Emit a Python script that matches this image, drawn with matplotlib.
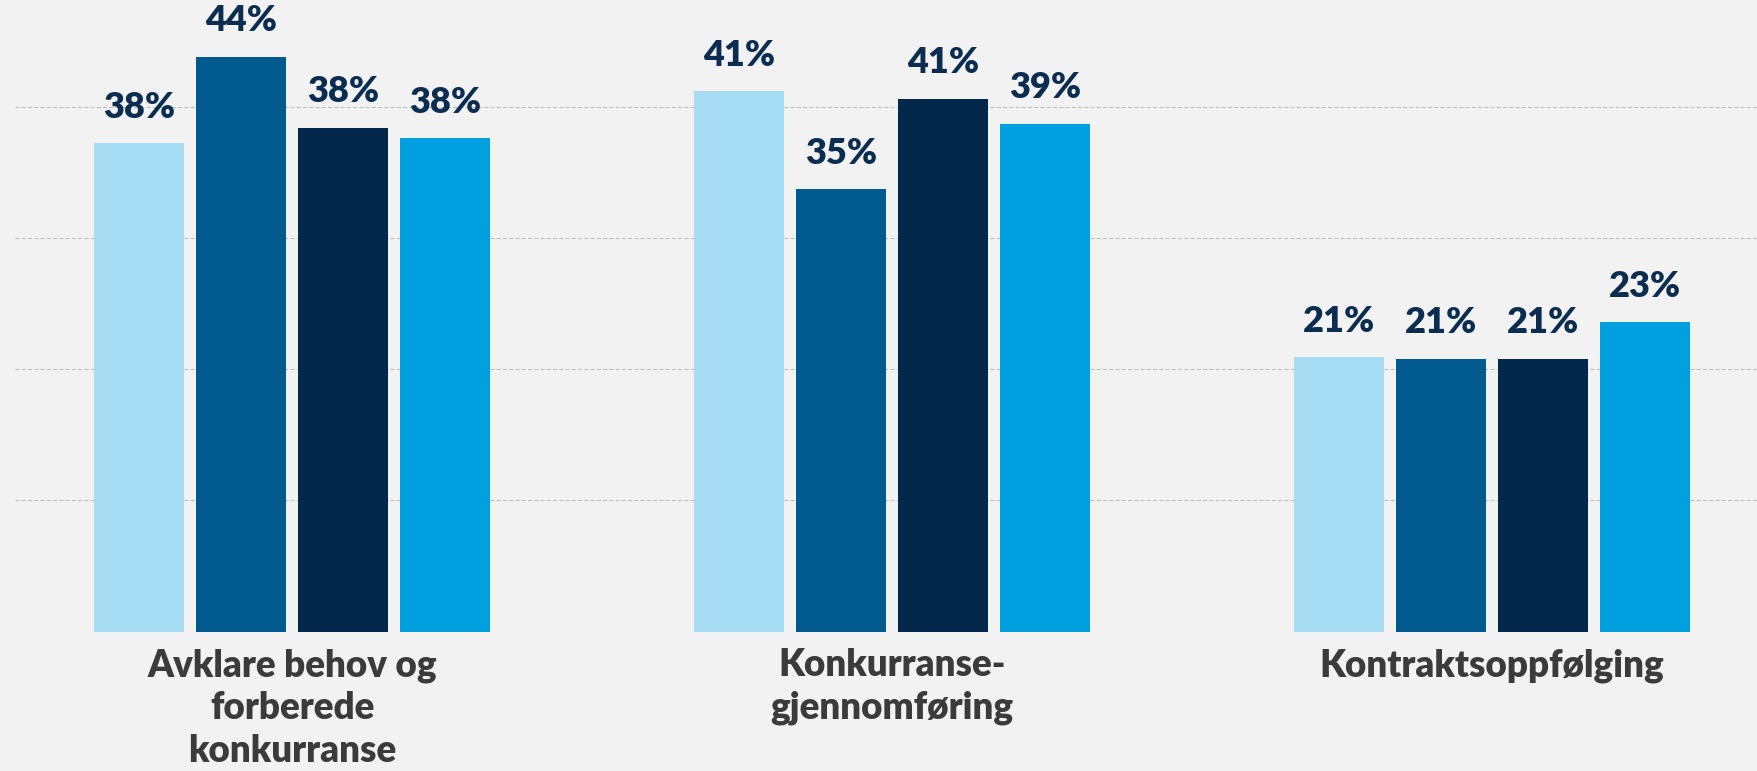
import numpy as np
import matplotlib.pyplot as plt

# --- Data -----------------------------------------------------------------

categories = ["Avklare behov og\nforberede\nkonkurranse",
              "Konkurranse-\ngjennomføring",
              "Kontraktsoppfølging"]

# bar heights (percent) for the four series in each category
series_values = [
    [37.2, 41.2, 20.9],
    [43.8, 33.7, 20.8],
    [38.4, 40.6, 20.8],
    [37.6, 38.7, 23.6],
]
# value labels as printed on the chart
series_labels = [
    ["38%", "41%", "21%"],
    ["44%", "35%", "21%"],
    ["38%", "41%", "21%"],
    ["38%", "39%", "23%"],
]
grid_values = [0, 10, 20, 30, 40]

# --- Style ----------------------------------------------------------------

BG = "#f2f2f2"
COLORS = ["#a6dcf3", "#005a8e", "#03284b", "#009fe0"]
LABEL_COLOR = "#0b2d50"
CAT_COLOR = "#3b3b3b"
FONT = ["Lato", "DejaVu Sans"]
WEIGHT = "heavy"

W, H, DPI = 1758, 771, 100
fig = plt.figure(figsize=(W / DPI, H / DPI), dpi=DPI, facecolor=BG)

base_px = 631.7          # y of baseline from top
left_px = 15
ax = fig.add_axes([left_px / W, (H - base_px) / H, 1 - left_px / W, base_px / H])
ax.set_facecolor(BG)

px_per_pct = 13.125
ax.set_ylim(0, base_px / px_per_pct)
group_px = 600.0
ax.set_xlim(-(292.2 - left_px) / group_px, -(292.2 - left_px) / group_px + (W - left_px) / group_px)

x = np.arange(len(categories))
step = 102 / group_px
width = 90 / group_px

for g in grid_values:
    ax.axhline(g, color="#bdbdbd", lw=0.75, ls=(0, (4, 2)), zorder=0)

for i, (vals, labs) in enumerate(zip(series_values, series_labels)):
    xs = x + (i - 1.5) * step
    ax.bar(xs, vals, width=width, color=COLORS[i], zorder=2)
    for xi, v, lab in zip(xs, vals, labs):
        ax.annotate(lab, (xi, v), xytext=(0, 14), textcoords="offset points",
                    ha="center", va="bottom", fontsize=26, fontweight=WEIGHT,
                    color=LABEL_COLOR, family=FONT)

ax.set_xticks(x)
ax.set_xticklabels(categories, fontsize=26.5, fontweight=WEIGHT, color=CAT_COLOR,
                   family=FONT, linespacing=1.3)
ax.tick_params(axis="x", length=0, pad=12)
ax.set_yticks([])
for s in ax.spines.values():
    s.set_visible(False)

plt.savefig("out.png", dpi=DPI, facecolor=BG)
